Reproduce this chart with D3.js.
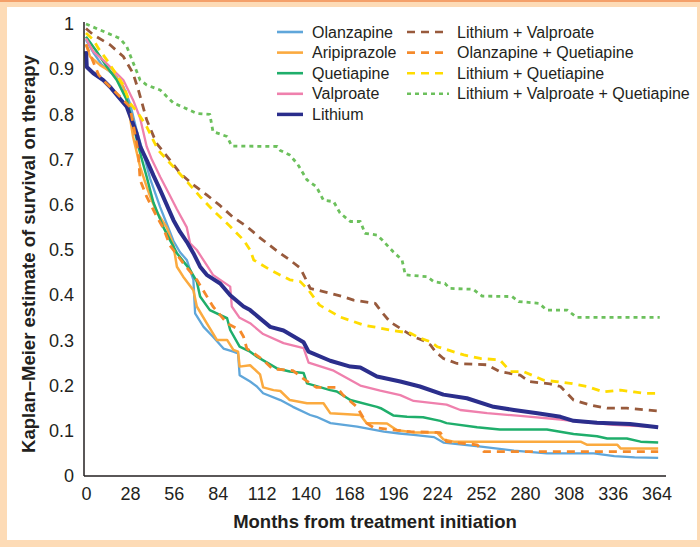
<!DOCTYPE html>
<html>
<head>
<meta charset="utf-8">
<script src="https://cdn.jsdelivr.net/npm/d3@7"></script>
<style>
  body { margin: 0; }
  svg { display: block; }
</style>
</head>
<body>
<script>
// survival curves: [months, KM estimate]
const olanzapine = [[0,0.965],[5,0.935],[10,0.91],[15,0.895],[19.6,0.883],[24,0.86],[28,0.825],[32.3,0.765],[36.6,0.714],[40.9,0.658],[47.3,0.595],[51.5,0.558],[55.8,0.52],[60,0.495],[64.3,0.478],[68.5,0.434],[69.6,0.36],[75,0.33],[81,0.308],[87.7,0.282],[94,0.275],[97,0.271],[98,0.223],[104.7,0.209],[109,0.198],[113,0.183],[124,0.168],[132,0.153],[143,0.135],[147,0.131],[156,0.117],[173,0.109],[190,0.098],[200,0.094],[209,0.091],[222,0.086],[228,0.074],[252,0.065],[273,0.056],[294,0.05],[324,0.05],[337,0.044],[350,0.041],[365,0.04]];
const aripiprazole = [[0,0.955],[2.6,0.928],[9,0.909],[17.4,0.891],[23.8,0.861],[27,0.817],[30,0.751],[34.5,0.684],[38.7,0.64],[41,0.618],[45,0.585],[51.5,0.55],[55.8,0.51],[58,0.463],[62,0.441],[68.5,0.411],[70.7,0.375],[77,0.338],[83.5,0.301],[90,0.301],[94,0.279],[97,0.275],[98,0.242],[104.7,0.245],[111,0.225],[113,0.196],[119.6,0.19],[124,0.188],[130,0.168],[141,0.161],[151.5,0.161],[155.8,0.139],[175,0.135],[179,0.117],[192,0.116],[198,0.102],[209,0.096],[224,0.096],[228,0.081],[234.6,0.076],[315.5,0.076],[319.8,0.069],[339,0.069],[341,0.061],[365,0.061]];
const quetiapine = [[0,0.972],[6.8,0.939],[13.2,0.906],[19.6,0.876],[26,0.832],[30,0.78],[33.4,0.729],[38.7,0.662],[43,0.605],[49.4,0.55],[53.6,0.522],[58,0.493],[66.4,0.456],[70.7,0.43],[72.8,0.397],[79,0.367],[90,0.349],[92,0.323],[98,0.286],[104.7,0.275],[109,0.264],[121.8,0.238],[130,0.231],[138.8,0.228],[141,0.205],[155.8,0.19],[160,0.187],[168.6,0.168],[185.6,0.153],[188,0.15],[196,0.134],[204.8,0.131],[215,0.13],[226,0.122],[230,0.117],[249.5,0.108],[264,0.103],[294,0.103],[311,0.093],[326,0.088],[332.5,0.083],[345,0.083],[353.8,0.076],[365,0.074]];
const valproate = [[0,0.968],[4.7,0.939],[11,0.92],[17.4,0.898],[23.8,0.876],[30,0.832],[34.5,0.792],[38.7,0.729],[42,0.7],[47.3,0.662],[53.6,0.62],[58,0.59],[64.3,0.55],[66.4,0.515],[70.7,0.5],[79,0.456],[81,0.445],[92,0.419],[93,0.375],[98,0.35],[104.7,0.338],[113,0.314],[126,0.294],[138.8,0.283],[142,0.251],[158,0.233],[175,0.2],[187.7,0.189],[200.5,0.179],[209,0.166],[230,0.158],[238.8,0.146],[255.9,0.139],[277,0.133],[302.7,0.125],[315.5,0.12],[336.7,0.113],[365,0.108]];
const lithium = [[0,0.94],[0.5,0.905],[4.7,0.891],[11,0.876],[15.3,0.861],[20.6,0.839],[26,0.817],[32.3,0.758],[34.5,0.729],[38.7,0.699],[43,0.665],[47.3,0.633],[55.8,0.566],[60,0.54],[64.3,0.518],[68.5,0.493],[72.8,0.463],[77,0.445],[85.6,0.426],[92,0.4],[100.5,0.375],[104.7,0.367],[117.5,0.33],[126,0.322],[138.8,0.296],[142,0.275],[155.8,0.255],[168.6,0.242],[175,0.24],[185.6,0.22],[200.5,0.209],[213,0.198],[228,0.18],[243,0.172],[260,0.153],[273,0.146],[288,0.139],[302.7,0.131],[311,0.122],[326,0.118],[347,0.115],[365,0.108]];
const lithiumValproate = [[0,0.99],[4.7,0.976],[15.3,0.954],[23.8,0.928],[30,0.891],[33.4,0.854],[38.7,0.788],[45,0.736],[53.6,0.699],[60,0.67],[68.5,0.644],[77,0.622],[85.6,0.598],[94,0.572],[102.6,0.552],[111,0.527],[121.8,0.498],[130,0.478],[136.7,0.46],[141,0.43],[143,0.415],[151.5,0.408],[164,0.397],[170.7,0.389],[184.5,0.382],[188.8,0.362],[194,0.341],[202.6,0.322],[209,0.308],[215,0.3],[219.7,0.29],[222.9,0.275],[228,0.26],[236.7,0.249],[255.9,0.246],[264,0.231],[277,0.223],[282.5,0.209],[296,0.204],[302.7,0.198],[311,0.168],[321.8,0.157],[332.5,0.15],[345,0.15],[365,0.144]];
const olanzapineQuetiapine = [[0,0.955],[3,0.93],[8,0.888],[12,0.872],[17.4,0.854],[23.8,0.832],[28,0.817],[30,0.78],[33.4,0.714],[34.5,0.655],[38.7,0.618],[45,0.575],[49.4,0.548],[53.6,0.51],[62,0.471],[70.7,0.434],[81,0.375],[90,0.338],[98,0.323],[100.5,0.308],[102.6,0.282],[113,0.257],[119,0.237],[132,0.233],[140,0.212],[147,0.196],[160,0.196],[164,0.179],[172.8,0.153],[179,0.117],[183.5,0.107],[196,0.102],[207,0.098],[226,0.096],[230,0.076],[249.5,0.069],[253.7,0.054],[365,0.054]];
const lithiumQuetiapine = [[0,0.98],[4.7,0.965],[7.9,0.946],[14,0.917],[19.6,0.887],[23.8,0.865],[28,0.825],[33.4,0.802],[38.7,0.773],[46,0.721],[55.8,0.684],[64,0.653],[72.8,0.618],[81,0.588],[92,0.552],[100.5,0.522],[104.7,0.5],[107,0.478],[117.5,0.456],[130,0.434],[136.7,0.43],[142,0.411],[149,0.378],[162,0.352],[177,0.334],[194,0.323],[207,0.316],[213,0.305],[219.7,0.297],[224,0.286],[241,0.268],[251.6,0.26],[264,0.257],[270.8,0.231],[279,0.231],[292,0.212],[309,0.205],[319.8,0.198],[330,0.186],[341,0.19],[349.5,0.186],[356,0.183],[365,0.183]];
const lithiumValproateQuetiapine = [[0,1],[21.7,0.968],[26,0.95],[34.5,0.876],[38.8,0.865],[47.3,0.854],[55.8,0.825],[62,0.816],[70.7,0.802],[79,0.8],[81,0.762],[90,0.751],[93,0.73],[122,0.729],[124,0.72],[130,0.71],[135,0.69],[141,0.655],[147,0.64],[151.5,0.61],[158,0.607],[162,0.582],[168.6,0.563],[175,0.563],[178,0.537],[185.6,0.533],[189,0.522],[196,0.496],[201.6,0.478],[203.7,0.445],[217.6,0.441],[221.8,0.43],[229,0.426],[232,0.415],[247,0.413],[252.7,0.398],[271.8,0.397],[276,0.386],[289,0.382],[294,0.367],[307,0.367],[313,0.351],[366,0.351]];

const seriesNames = ["Olanzapine", "Aripiprazole", "Quetiapine", "Valproate", "Lithium",
  "Lithium + Valproate", "Olanzapine + Quetiapine", "Lithium + Quetiapine", "Lithium + Valproate + Quetiapine"];
const seriesValues = [olanzapine, aripiprazole, quetiapine, valproate, lithium,
  lithiumValproate, olanzapineQuetiapine, lithiumQuetiapine, lithiumValproateQuetiapine];

const xTicks = [0, 28, 56, 84, 112, 140, 168, 196, 224, 252, 280, 308, 336, 364];
const yTicks = [0, 0.1, 0.2, 0.3, 0.4, 0.5, 0.6, 0.7, 0.8, 0.9, 1];

// line styles, same order as seriesNames
const colors = ["#5fa6da", "#fbaa3f", "#1fae6b", "#ef80ad", "#2b2e8c",
  "#985a3c", "#f58a2b", "#ffdc00", "#6cc05c"];
const widths = [2.3, 2.5, 2.5, 2.3, 4, 2.8, 2.8, 2.8, 2.8];
const dashes = [null, null, null, null, null, "8,6", "8,6", "8,6", "4,4"];

const canvasW = 700;
const canvasH = 547;
const font = "'Liberation Sans', Arial, Helvetica, sans-serif";
const ink = "#231f20";

const svg = d3.select("body").append("svg")
  .attr("width", canvasW)
  .attr("height", canvasH);

// peach frame with a white panel
svg.append("rect").attr("width", canvasW).attr("height", canvasH).attr("fill", "#fddbb6");
svg.append("rect").attr("width", canvasW).attr("height", 2).attr("fill", "#f4a06a");
svg.append("rect").attr("x", 7).attr("y", 7).attr("width", 690).attr("height", 533).attr("fill", "#ffffff");

const x = d3.scaleLinear().domain([0, 370]).range([86, 666]);
const y = d3.scaleLinear().domain([0, 1]).range([476, 24]);

// axes (labels from d3 axes, no tick marks)
svg.append("g")
  .attr("transform", "translate(0," + y(0) + ")")
  .call(d3.axisBottom(x).tickValues(xTicks).tickSize(0).tickPadding(11).tickFormat(d => d))
  .call(g => g.select(".domain").remove())
  .call(g => g.selectAll("text").attr("font-family", font).attr("font-size", "18px").attr("fill", ink));

svg.append("g")
  .attr("transform", "translate(84,0)")
  .call(d3.axisLeft(y).tickValues(yTicks).tickSize(0).tickPadding(10).tickFormat(d => String(d)))
  .call(g => g.select(".domain").remove())
  .call(g => g.selectAll("text").attr("font-family", font).attr("font-size", "18px").attr("fill", ink));

// curves, single drugs first, combinations on top
const line = d3.line()
  .x(d => x(d[0]))
  .y(d => y(d[1]));

seriesValues.forEach((values, i) => {
  svg.append("path")
    .datum(values)
    .attr("fill", "none")
    .attr("stroke", colors[i])
    .attr("stroke-width", widths[i])
    .attr("stroke-dasharray", dashes[i])
    .attr("stroke-linejoin", "round")
    .attr("d", line);
});

svg.append("line")
  .attr("x1", 84).attr("x2", 84)
  .attr("y1", y(0)).attr("y2", 22)
  .attr("stroke", ink).attr("stroke-width", 1.5);
svg.append("line")
  .attr("x1", 84).attr("x2", 666)
  .attr("y1", y(0)).attr("y2", y(0))
  .attr("stroke", ink).attr("stroke-width", 1.5);

// legend, two columns
const legend = svg.append("g");
seriesNames.forEach((name, i) => {
  let col = i < 5 ? 0 : 1;
  let row = i < 5 ? i : i - 5;
  let lx = col == 0 ? 277 : 407;
  let ly = 32 + row * 20.6;
  legend.append("line")
    .attr("x1", lx).attr("x2", lx + (col == 0 ? 26 : 42))
    .attr("y1", ly).attr("y2", ly)
    .attr("stroke", colors[i])
    .attr("stroke-width", i == 4 ? 3.5 : 2.6)
    .attr("stroke-dasharray", dashes[i]);
  legend.append("text")
    .attr("x", col == 0 ? 312 : 457)
    .attr("y", ly)
    .attr("dy", "0.35em")
    .attr("font-family", font)
    .attr("font-size", "16px")
    .attr("fill", ink)
    .text(name);
});

// axis titles
svg.append("text")
  .attr("x", 375)
  .attr("y", 528)
  .attr("text-anchor", "middle")
  .attr("font-family", font)
  .attr("font-size", "18.5px")
  .attr("font-weight", "bold")
  .attr("fill", ink)
  .text("Months from treatment initiation");

svg.append("text")
  .attr("text-anchor", "middle")
  .attr("font-family", font)
  .attr("font-size", "18.5px")
  .attr("font-weight", "bold")
  .attr("fill", ink)
  .attr("transform", "translate(35,254) rotate(-90)")
  .text("Kaplan\u2013Meier estimate of survival on therapy");
</script>
</body>
</html>
